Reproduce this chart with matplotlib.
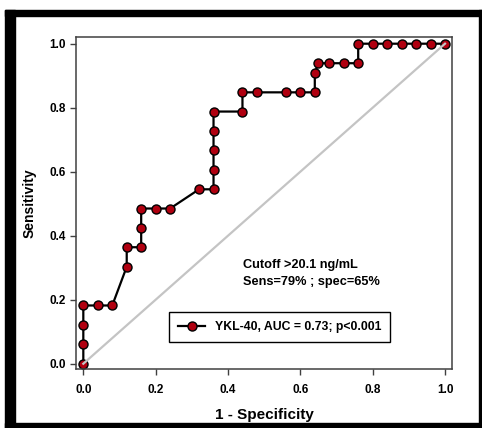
import matplotlib
matplotlib.use("Agg")
import matplotlib.pyplot as plt
from matplotlib.patches import Rectangle

# ROC points
fpr = [0.0, 0.0, 0.0, 0.0, 0.04, 0.08, 0.12, 0.12, 0.16, 0.16, 0.16, 0.20,
       0.24, 0.32, 0.36, 0.36, 0.36, 0.36, 0.36, 0.44, 0.44, 0.48, 0.56,
       0.60, 0.64, 0.64, 0.65, 0.68, 0.72, 0.76, 0.76, 0.80, 0.84, 0.88,
       0.92, 0.96, 1.0]
tpr = [0.0, 0.061, 0.121, 0.182, 0.182, 0.182, 0.303, 0.364, 0.364, 0.424,
       0.485, 0.485, 0.485, 0.545, 0.545, 0.606, 0.667, 0.727, 0.788, 0.788,
       0.848, 0.848, 0.848, 0.848, 0.848, 0.909, 0.939, 0.939, 0.939, 0.939,
       1.0, 1.0, 1.0, 1.0, 1.0, 1.0, 1.0]

ref_line = [0.0, 1.0]
ticks = [0.0, 0.2, 0.4, 0.6, 0.8, 1.0]
tick_labels = ["0.0", "0.2", "0.4", "0.6", "0.8", "1.0"]

legend_label = "YKL-40, AUC = 0.73; p<0.001"
note_lines = ["Cutoff >20.1 ng/mL", "Sens=79% ; spec=65%"]

plt.rcParams["font.family"] = ["Liberation Sans", "DejaVu Sans"]
plt.rcParams["font.weight"] = "bold"

fig = plt.figure(figsize=(4.82, 4.28), dpi=100)
ax = fig.add_axes([0.1577, 0.1371, 0.9384 - 0.1577, 0.9136 - 0.1371])

ax.plot(fpr, tpr, color="black", lw=1.6, marker="o", markersize=6.5,
        markerfacecolor="#b00010", markeredgecolor="black",
        markeredgewidth=1.0, label=legend_label, zorder=2)
ax.plot(ref_line, ref_line, color="#c4c4c4", lw=1.6, zorder=3)

ax.set_xlim(-0.0202, 1.0202)
ax.set_ylim(-0.0175, 1.021)
ax.set_xticks(ticks)
ax.set_xticklabels(tick_labels)
ax.set_yticks(ticks)
ax.set_yticklabels(tick_labels)
ax.tick_params(direction="out", length=4.5, width=1.0, color="#404040",
               labelsize=8.5)
ax.tick_params(axis="x", pad=6)
ax.tick_params(axis="y", pad=3)
for lab in ax.get_xticklabels() + ax.get_yticklabels():
    lab.set_fontweight("bold")
for sp in ax.spines.values():
    sp.set_color("#404040")
    sp.set_linewidth(1.1)

ax.set_xlabel("1 - Specificity", fontsize=11, fontweight="bold", labelpad=9)
ax.set_ylabel("Sensitivity", fontsize=10, fontweight="bold", labelpad=9)

ax.text(0.4415, 0.308, note_lines[0], fontsize=9.2, fontweight="bold",
        ha="left", va="center")
ax.text(0.4415, 0.256, note_lines[1], fontsize=9.2, fontweight="bold",
        ha="left", va="center")

leg = ax.legend(loc="lower left", bbox_to_anchor=(0.247, 0.082),
                borderaxespad=0, fancybox=False, framealpha=1,
                edgecolor="black", handlelength=2.2, borderpad=0.75,
                prop={"weight": "bold", "size": 8.8})
leg.get_frame().set_linewidth(1.0)

# thick black frame around the panel
W, H = 482.0, 428.0
for x0, y0, w, h in [(5, 10, 10, 418), (5, 10, 477, 6),
                     (478.5, 10, 3.5, 418), (5, 422.5, 477, 5.5)]:
    fig.patches.append(Rectangle((x0 / W, 1 - (y0 + h) / H), w / W, h / H,
                                 transform=fig.transFigure, color="black",
                                 zorder=10))

fig.savefig("out.png", dpi=100)
